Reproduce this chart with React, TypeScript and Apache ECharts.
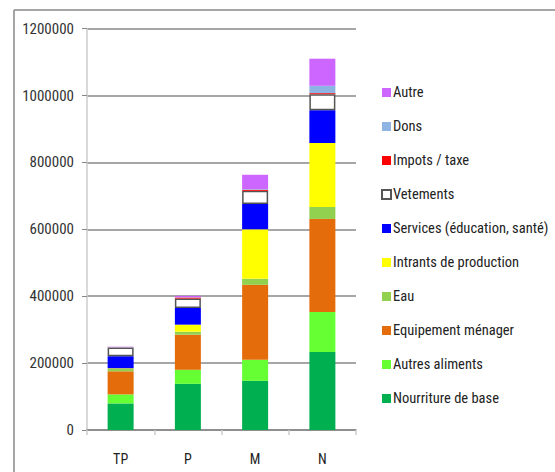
import React, { useEffect, useRef } from "react";
import * as echarts from "echarts";

const categories = ["TP", "P", "M", "N"];
const nourriture = [79500, 138000, 147000, 233000];
const autresAliments = [27000, 42000, 63000, 120000];
const equipement = [69000, 105000, 224000, 278000];
const eau = [7000, 9000, 18000, 36000];
const intrants = [2000, 21000, 148000, 191000];
const services = [36000, 50000, 76000, 98000];
const vetements = [26000, 28000, 39000, 48000];
const impots = [500, 3000, 3000, 3000];
const dons = [1000, 1000, 2000, 22000];
const autre = [1000, 4000, 43000, 81000];
const yTicks = { min: 0, max: 1200000, interval: 200000 };

const FONT = "'Liberation Sans Narrow', 'Arial Narrow', 'Roboto Condensed', 'Liberation Sans', sans-serif";

export default function App() {
  const ref = useRef<HTMLDivElement>(null);
  useEffect(() => {
    if (!ref.current) return;
    const chart = echarts.init(ref.current, null, { renderer: "svg" });
    const mk = (name: string, data: number[], color: string, extra: any = {}) => ({
      name,
      type: "bar",
      stack: "total",
      data,
      barWidth: 26,
      itemStyle: { color, ...extra },
      emphasis: { disabled: true },
    });
    const series = [
      mk("Nourriture de base", nourriture, "#00B050"),
      mk("Autres aliments", autresAliments, "#66FF33"),
      mk("Equipement ménager", equipement, "#E46C0A"),
      mk("Eau", eau, "#92D050"),
      mk("Intrants de production", intrants, "#FFFF00"),
      mk("Services (éducation, santé)", services, "#0000FF"),
      mk("Vetements", vetements, "#FFFFFF", { borderColor: "#555555", borderWidth: 1.5 }),
      mk("Impots / taxe", impots, "#FF0000"),
      mk("Dons", dons, "#8EB4E3"),
      mk("Autre", autre, "#CC66FF"),
    ];
    chart.setOption({
      animation: false,
      textStyle: { fontFamily: FONT },
      grid: { left: 87, right: 199, top: 28.6, bottom: 42 },
      legend: {
        orient: "vertical",
        left: 381,
        top: 85,
        padding: 0,
        itemWidth: 9,
        itemHeight: 9,
        itemGap: 19,
        icon: "rect",
        selectedMode: false,
        data: series.map((s) => s.name).reverse(),
        textStyle: { fontFamily: FONT, fontSize: 14.5, color: "#222", lineHeight: 14, padding: [0, 0, 0, -3] },
      },
      xAxis: {
        type: "category",
        data: categories,
        axisLine: { lineStyle: { color: "#888", width: 1.5 } },
        axisTick: { show: true, length: 5, lineStyle: { color: "#ccc", width: 1.5 } },
        axisLabel: { fontFamily: FONT, fontSize: 14, color: "#222", margin: 22 },
      },
      yAxis: {
        type: "value",
        min: yTicks.min,
        max: yTicks.max,
        interval: yTicks.interval,
        axisLine: { show: true, lineStyle: { color: "#ccc", width: 1.5 } },
        axisTick: { show: true, length: 5, lineStyle: { color: "#888" } },
        axisLabel: {
          fontFamily: FONT,
          fontSize: 15,
          color: "#333",
          margin: 13,
          formatter: (v: number) => String(v),
        },
        splitLine: { lineStyle: { color: "#888", width: 1.5 } },
      },
      graphic: [
        { type: "line", shape: { x1: 14, y1: 10, x2: 555, y2: 10 }, style: { stroke: "#888", lineWidth: 1.5 } },
        { type: "line", shape: { x1: 14, y1: 10, x2: 14, y2: 472 }, style: { stroke: "#888", lineWidth: 1.5 } },
      ],
      series,
    });
    return () => chart.dispose();
  }, []);
  return (
    <div
      ref={ref}
      style={{ position: "fixed", left: 0, top: 0, width: 555, height: 472, background: "#fff" }}
    />
  );
}
